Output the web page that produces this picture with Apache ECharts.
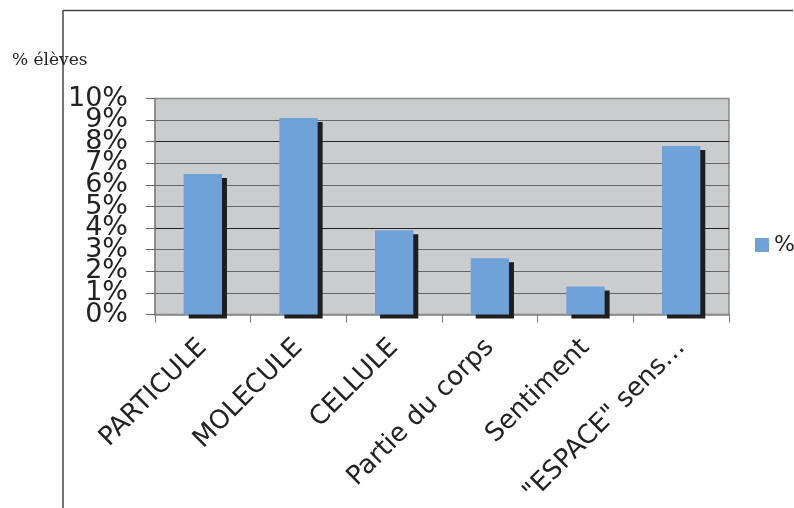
<!DOCTYPE html>
<html>
<head>
<meta charset="utf-8">
<script src="https://cdn.jsdelivr.net/npm/echarts@6/dist/echarts.min.js"></script>
<style>
html,body{margin:0;padding:0;background:#fff;}
#chart{width:794px;height:508px;}
</style>
</head>
<body>
<div id="chart"></div>
<script>
const categories = ['PARTICULE', 'MOLECULE', 'CELLULE', 'Partie du corps', 'Sentiment', '"ESPACE" sens…'];
const seriesName = '%';
const values = [6.5, 9.1, 3.9, 2.6, 1.3, 7.8];
const yAxisTitle = '% élèves';
const yMin = 0, yMax = 10, yStep = 1;

const labelStyle = {margin: 27, fontSize: 27, color: '#222', fontFamily: 'DejaVu Sans', showMinLabel: true, showMaxLabel: true, hideOverlap: false};

const chart = echarts.init(document.getElementById('chart'), null, {renderer: 'canvas'});
chart.setOption({
  animation: false,
  backgroundColor: '#ffffff',
  grid: {
    left: 155, right: 65, top: 98.5, bottom: 193,
    show: true, backgroundColor: '#cbcccd', borderColor: '#888', borderWidth: 1.5
  },
  legend: {
    show: true, left: 750, top: 229, orient: 'vertical',
    itemWidth: 14, itemHeight: 14, itemGap: 6,
    textStyle: {fontSize: 22, color: '#222', fontFamily: 'DejaVu Sans'},
    icon: 'rect',
    data: [seriesName]
  },
  xAxis: {
    type: 'category',
    data: categories,
    axisLine: {show: true, lineStyle: {color: '#888', width: 1.5}},
    axisTick: {show: true, alignWithLabel: false, length: 8, lineStyle: {color: '#777'}},
    axisLabel: {rotate: 45, margin: 29, fontSize: 26, color: '#222', fontFamily: 'DejaVu Sans', interval: 0, hideOverlap: false}
  },
  yAxis: [{
    type: 'value', min: yMin, max: yMax, interval: yStep, position: 'left',
    axisLine: {show: true, lineStyle: {color: '#888', width: 1.5}},
    axisTick: {show: true, length: 9, lineStyle: {color: '#666'}},
    axisLabel: Object.assign({formatter: function (v) { return (Math.round(v) % 2 === 0) ? v + '%' : ''; }}, labelStyle),
    splitLine: {show: true, lineStyle: {width: 1.2, color: ['#888', '#666', '#666', '#666', '#222', '#666', '#666', '#666', '#222', '#666', '#888']}}
  }, {
    type: 'value', min: yMin, max: yMax, interval: yStep, position: 'left', offset: 0,
    axisLine: {show: false}, axisTick: {show: false}, splitLine: {show: false},
    axisLabel: Object.assign({formatter: function (v) { return (Math.round(v) % 2 === 1) ? v + '%' : ''; }}, labelStyle)
  }],
  series: [{
    name: seriesName,
    type: 'bar',
    yAxisIndex: 0,
    data: values,
    barCategoryGap: '60%',
    itemStyle: {color: '#6fa2d8', shadowColor: '#1e1e1e', shadowOffsetX: 5, shadowOffsetY: 4, shadowBlur: 0}
  }],
  graphic: [
    {type: 'line', shape: {x1: 63, y1: 10, x2: 63, y2: 508}, style: {stroke: '#444', lineWidth: 1.5}, z: 100},
    {type: 'line', shape: {x1: 63, y1: 10.5, x2: 793, y2: 10.5}, style: {stroke: '#444', lineWidth: 1.5}, z: 100},
    {type: 'text', left: 12, top: 52, style: {text: yAxisTitle, fontSize: 17, fontFamily: 'DejaVu Serif', fill: '#222'}, z: 100}
  ]
});
</script>
</body>
</html>
